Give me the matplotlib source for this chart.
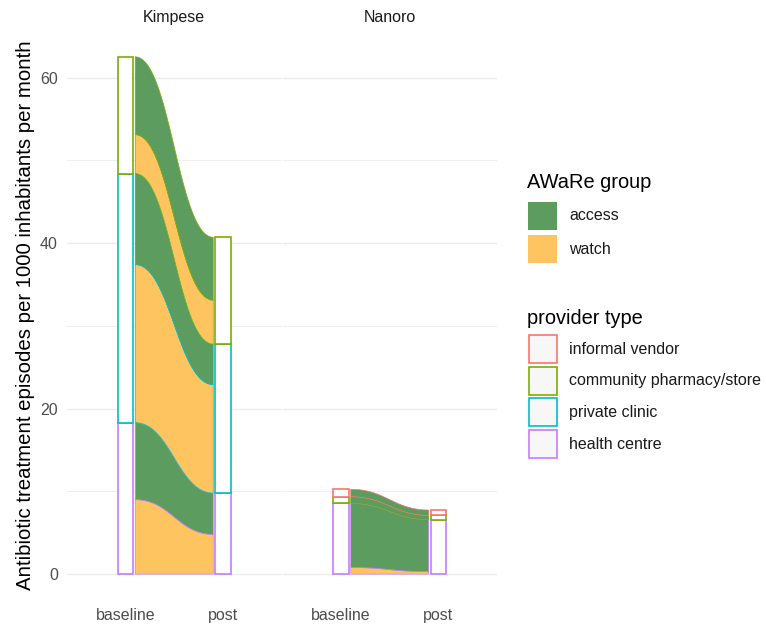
import numpy as np
import matplotlib
matplotlib.use("Agg")
import matplotlib.pyplot as plt
from matplotlib.patches import Polygon, Rectangle

plt.rcParams["font.family"] = ["Liberation Sans", "DejaVu Sans"]

# ---- data -------------------------------------------------------------
sites = ["Kimpese", "Nanoro"]
periods = ["baseline", "post"]
providers = ["informal vendor", "community pharmacy/store", "private clinic", "health centre"]
groups = ["access", "watch"]

# episodes per 1000 inhabitants per month, ordered as `providers`
kimpese_access_baseline = [0.0, 9.4, 11.0, 9.3]
kimpese_watch_baseline = [0.0, 4.7, 19.1, 9.0]
kimpese_access_post = [0.0, 7.6, 4.9, 5.0]
kimpese_watch_post = [0.0, 5.3, 13.1, 4.8]

nanoro_access_baseline = [0.9, 0.8, 0.0, 7.75]
nanoro_watch_baseline = [0.0, 0.0, 0.0, 0.8]
nanoro_access_post = [0.65, 0.5, 0.0, 6.3]
nanoro_watch_post = [0.0, 0.0, 0.0, 0.3]

site_data = {
    "Kimpese": {
        "baseline": {"access": kimpese_access_baseline, "watch": kimpese_watch_baseline},
        "post": {"access": kimpese_access_post, "watch": kimpese_watch_post},
    },
    "Nanoro": {
        "baseline": {"access": nanoro_access_baseline, "watch": nanoro_watch_baseline},
        "post": {"access": nanoro_access_post, "watch": nanoro_watch_post},
    },
}

# ---- styles -----------------------------------------------------------
fill_colors = {"access": "#5C9C5F", "watch": "#FEC460"}
provider_colors = {
    "informal vendor": "#F8766D",
    "community pharmacy/store": "#7CAE00",
    "private clinic": "#00BFC4",
    "health centre": "#C77CFF",
}
STRATUM_HALF = 0.078
FLOW_OFFSET = 0.10

W, H = 766, 628
fig = plt.figure(figsize=(W / 100, H / 100), dpi=100)

def fx(px):
    return px / W

def fy(py):
    return 1 - py / H

panel_top, panel_bottom = 31, 600
panels = [(67, 281.5), (282.5, 497)]


def stack(values_by_group):
    """Stack strata (health centre at bottom) and, within each, watch then access."""
    strata = {}
    flows = {}
    y = 0.0
    for i in reversed(range(len(providers))):
        p = providers[i]
        start = y
        for g in ["watch", "access"]:
            v = values_by_group[g][i]
            flows[(p, g)] = (y, y + v)
            y += v
        strata[p] = (start, y)
    return strata, flows


def edge(x0, x1, y0, y1, n=80, k=0.45):
    t = np.linspace(0, 1, n)
    px = [x0, x0 + k * (x1 - x0), x1 - k * (x1 - x0), x1]
    py = [y0, y0, y1, y1]
    bx = (1 - t) ** 3 * px[0] + 3 * (1 - t) ** 2 * t * px[1] + 3 * (1 - t) * t ** 2 * px[2] + t ** 3 * px[3]
    by = (1 - t) ** 3 * py[0] + 3 * (1 - t) ** 2 * t * py[1] + 3 * (1 - t) * t ** 2 * py[2] + t ** 3 * py[3]
    return bx, by


axes = []
for k, site in enumerate(sites):
    l, r = panels[k]
    ax = fig.add_axes([fx(l), fy(panel_bottom), fx(r) - fx(l), fy(panel_top) - fy(panel_bottom)])
    axes.append(ax)
    ax.set_xlim(0.4, 2.6)
    ax.set_ylim(-3.125, 65.625)
    for s in ax.spines.values():
        s.set_visible(False)
    ax.set_yticks([0, 20, 40, 60])
    ax.set_yticks([10, 30, 50], minor=True)
    ax.grid(axis="y", which="major", color="#EBEBEB", lw=1.0, zorder=0)
    ax.grid(axis="y", which="minor", color="#EBEBEB", lw=0.55, zorder=0)
    ax.tick_params(axis="both", which="both", length=0, labelsize=11.5, labelcolor="#4D4D4D")
    ax.tick_params(axis="y", pad=6.5)
    ax.tick_params(axis="x", pad=6)
    ax.set_xticks([1, 2])
    ax.set_xticklabels(periods)
    if k > 0:
        ax.tick_params(axis="y", labelleft=False)
    ax.set_axisbelow(True)

    s_base, f_base = stack(site_data[site]["baseline"])
    s_post, f_post = stack(site_data[site]["post"])

    # flows between periods
    x0, x1 = 1 + FLOW_OFFSET, 2 - FLOW_OFFSET
    for i in reversed(range(len(providers))):
        p = providers[i]
        for g in ["watch", "access"]:
            b0, b1 = f_base[(p, g)]
            q0, q1 = f_post[(p, g)]
            if b1 - b0 <= 0 and q1 - q0 <= 0:
                continue
            lx, ly = edge(x0, x1, b0, q0)
            ux, uy = edge(x0, x1, b1, q1)
            xs = np.concatenate([lx, ux[::-1]])
            ys = np.concatenate([ly, uy[::-1]])
            ax.add_patch(Polygon(np.column_stack([xs, ys]), closed=True,
                                 facecolor=fill_colors[g], edgecolor=provider_colors[p],
                                 lw=0.5, zorder=2))

    # stratum boxes
    for xc, strata in [(1, s_base), (2, s_post)]:
        for p in reversed(providers):
            y0, y1 = strata[p]
            if y1 - y0 <= 0:
                continue
            ax.add_patch(Rectangle((xc - STRATUM_HALF, y0), 2 * STRATUM_HALF, y1 - y0,
                                   facecolor="white", edgecolor=provider_colors[p],
                                   lw=1.2, zorder=3))

    fig.text(fx((l + r) / 2), fy(17.5), site, ha="center", va="center",
             fontsize=11.5, color="#1A1A1A")

fig.text(fx(26), fy(315),
         "Antibiotic treatment episodes per 1000 inhabitants per month",
         rotation=90, ha="center", va="center", fontsize=14.7, color="black")

# ---- legends ----------------------------------------------------------
lax = fig.add_axes([0, 0, 1, 1])
lax.set_xlim(0, W)
lax.set_ylim(H, 0)
lax.axis("off")

lax.text(527, 183, "AWaRe group", ha="left", va="center", fontsize=14.4, color="black")
for j, (g, ytop) in enumerate(zip(groups, [201.5, 234.5])):
    lax.add_patch(Rectangle((528, ytop), 29, 28.5, facecolor=fill_colors[g], edgecolor="none"))
    lax.text(569, ytop + 14.5, g, ha="left", va="center", fontsize=11.5, color="#1A1A1A")

lax.text(527, 318, "provider type", ha="left", va="center", fontsize=14.4, color="black")
for j, p in enumerate(providers):
    ytop = 335 + j * 31.7
    lax.add_patch(Rectangle((529, ytop), 27.5, 28, facecolor="#F7F7F7",
                            edgecolor=provider_colors[p], lw=1.2))
    lax.text(569, ytop + 14, p, ha="left", va="center", fontsize=11.5, color="#1A1A1A")

fig.savefig("out.png", dpi=100)
